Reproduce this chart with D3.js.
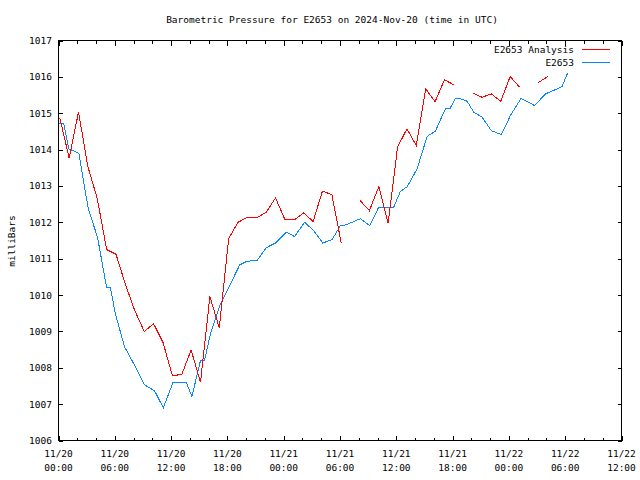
<!DOCTYPE html>
<html>
<head>
<meta charset="utf-8">
<script src="https://cdn.jsdelivr.net/npm/d3@7"></script>
<style>
  html, body { margin: 0; padding: 0; background: #fff; }
  svg { display: block; }
  text { font-family: "DejaVu Sans Mono", "Liberation Mono", monospace; font-size: 9.5px; fill: #000; }
</style>
</head>
<body>
<svg id="chart" width="640" height="480"></svg>
<script>
// ---- data ----
const title = "Barometric Pressure for E2653 on 2024-Nov-20 (time in UTC)";
const yLabel = "milliBars";
const seriesNames = ["E2653 Analysis", "E2653"];
const yTicks = [1006, 1007, 1008, 1009, 1010, 1011, 1012, 1013, 1014, 1015, 1016, 1017];
const xTickTimes = ["2024-11-20T00:00Z","2024-11-20T06:00Z","2024-11-20T12:00Z","2024-11-20T18:00Z",
  "2024-11-21T00:00Z","2024-11-21T06:00Z","2024-11-21T12:00Z","2024-11-21T18:00Z",
  "2024-11-22T00:00Z","2024-11-22T06:00Z","2024-11-22T12:00Z"];
const xTickLabels = [["11/20","00:00"],["11/20","06:00"],["11/20","12:00"],["11/20","18:00"],
  ["11/21","00:00"],["11/21","06:00"],["11/21","12:00"],["11/21","18:00"],
  ["11/22","00:00"],["11/22","06:00"],["11/22","12:00"]];

// Analysis (red), hourly; null = missing
const analysisTimes = [
  "2024-11-20T00:08Z","2024-11-20T01:08Z","2024-11-20T02:08Z","2024-11-20T03:08Z","2024-11-20T04:08Z",
  "2024-11-20T05:08Z","2024-11-20T06:08Z","2024-11-20T07:08Z","2024-11-20T08:08Z","2024-11-20T09:08Z",
  "2024-11-20T10:08Z","2024-11-20T11:08Z","2024-11-20T12:08Z","2024-11-20T13:08Z","2024-11-20T14:08Z",
  "2024-11-20T15:08Z","2024-11-20T16:08Z","2024-11-20T17:08Z","2024-11-20T18:08Z","2024-11-20T19:08Z",
  "2024-11-20T20:08Z","2024-11-20T21:08Z","2024-11-20T22:08Z","2024-11-20T23:08Z","2024-11-21T00:08Z",
  "2024-11-21T01:08Z","2024-11-21T02:08Z","2024-11-21T03:08Z","2024-11-21T04:08Z","2024-11-21T05:08Z",
  "2024-11-21T06:08Z","2024-11-21T07:08Z","2024-11-21T08:08Z","2024-11-21T09:08Z","2024-11-21T10:08Z",
  "2024-11-21T11:08Z","2024-11-21T12:08Z","2024-11-21T13:08Z","2024-11-21T14:08Z","2024-11-21T15:08Z",
  "2024-11-21T16:08Z","2024-11-21T17:08Z","2024-11-21T18:08Z","2024-11-21T19:08Z","2024-11-21T20:08Z",
  "2024-11-21T21:08Z","2024-11-21T22:08Z","2024-11-21T23:08Z","2024-11-22T00:08Z","2024-11-22T01:08Z",
  "2024-11-22T02:08Z","2024-11-22T03:08Z","2024-11-22T04:08Z"];
const analysisValues = [
  1014.88, 1013.77, 1015.03, 1013.53, 1012.65, 1011.25, 1011.12, 1010.29, 1009.57, 1009.00,
  1009.21, 1008.70, 1007.79, 1007.81, 1008.49, 1007.60, 1009.96, 1009.10, 1011.55, 1012.00,
  1012.14, 1012.12, 1012.28, 1012.67, 1012.07, 1012.07, 1012.26, 1012.02, 1012.86, 1012.76,
  1011.43, null,    1012.60, 1012.32, 1012.98, 1011.98, 1014.07, 1014.57, 1014.11, 1015.67,
  1015.32, 1015.92, 1015.78, null,    1015.56, 1015.44, 1015.53, 1015.33, 1016.01, 1015.72,
  null,    1015.84, 1016.01];

// Station observations (blue)
const obsTimes = [
  "2024-11-20T00:00Z","2024-11-20T00:34Z","2024-11-20T01:06Z","2024-11-20T02:10Z","2024-11-20T03:10Z",
  "2024-11-20T04:10Z","2024-11-20T05:07Z","2024-11-20T05:32Z","2024-11-20T06:04Z","2024-11-20T07:02Z",
  "2024-11-20T08:01Z","2024-11-20T09:10Z","2024-11-20T10:14Z","2024-11-20T11:10Z","2024-11-20T12:12Z",
  "2024-11-20T13:12Z","2024-11-20T13:38Z","2024-11-20T14:13Z","2024-11-20T15:08Z","2024-11-20T15:34Z",
  "2024-11-20T16:12Z","2024-11-20T17:16Z","2024-11-20T18:20Z","2024-11-20T19:19Z","2024-11-20T20:06Z",
  "2024-11-20T21:10Z","2024-11-20T22:08Z","2024-11-20T23:07Z","2024-11-21T00:16Z","2024-11-21T01:09Z",
  "2024-11-21T02:14Z","2024-11-21T03:12Z","2024-11-21T04:10Z","2024-11-21T05:10Z","2024-11-21T06:03Z",
  "2024-11-21T06:24Z","2024-11-21T07:00Z","2024-11-21T08:11Z","2024-11-21T09:10Z","2024-11-21T10:08Z",
  "2024-11-21T11:06Z","2024-11-21T11:44Z","2024-11-21T12:26Z","2024-11-21T13:10Z","2024-11-21T14:13Z",
  "2024-11-21T15:17Z","2024-11-21T16:10Z","2024-11-21T17:14Z","2024-11-21T17:42Z","2024-11-21T18:18Z",
  "2024-11-21T18:50Z","2024-11-21T19:33Z","2024-11-21T20:15Z","2024-11-21T21:09Z","2024-11-21T22:08Z",
  "2024-11-21T23:12Z","2024-11-22T00:10Z","2024-11-22T01:18Z","2024-11-22T02:45Z","2024-11-22T03:53Z",
  "2024-11-22T04:53Z","2024-11-22T05:40Z","2024-11-22T06:16Z"];
const obsValues = [
  1014.71, 1014.71, 1014.02, 1013.90, 1012.38, 1011.58, 1010.22, 1010.20, 1009.48, 1008.58,
  1008.11, 1007.53, 1007.37, 1006.90, 1007.59, 1007.59, 1007.59, 1007.21, 1008.20, 1008.20,
  1008.94, 1009.76, 1010.31, 1010.83, 1010.93, 1010.95, 1011.30, 1011.43, 1011.73, 1011.61,
  1012.00, 1011.77, 1011.43, 1011.53, 1011.91, 1011.91, 1011.97, 1012.10, 1011.91, 1012.42,
  1012.42, 1012.42, 1012.85, 1012.98, 1013.47, 1014.36, 1014.51, 1015.12, 1015.12, 1015.41,
  1015.40, 1015.33, 1015.03, 1014.89, 1014.52, 1014.41, 1014.94, 1015.41, 1015.21, 1015.53,
  1015.64, 1015.74, 1016.11];

const seriesColors = ["#ff0000", "#0a86ff"];

// ---- layout ----
const pL = 58.5, pR = 621.5, pT = 40.5, pB = 440.5;
const svg = d3.select("#chart");

const x = d3.scaleUtc()
  .domain([new Date("2024-11-20T00:00Z"), new Date("2024-11-22T12:00Z")])
  .range([pL, pR]);
const y = d3.scaleLinear().domain([1006, 1017]).range([pB, pT]);

const minorTicks = d3.utcHour.every(2).range(new Date("2024-11-20T00:00Z"), new Date("2024-11-22T12:01Z"));
const majorSet = new Set(xTickTimes.map(s => +new Date(s)));

// frame
svg.append("rect").attr("x", pL).attr("y", pT)
  .attr("width", pR - pL).attr("height", pB - pT)
  .attr("fill", "none").attr("stroke", "#000").attr("stroke-width", 1);

// x ticks (bottom & top, inward)
const gx = svg.append("g").attr("stroke", "#000").attr("stroke-width", 1).attr("shape-rendering", "crispEdges");
minorTicks.forEach(t => {
  const len = majorSet.has(+t) ? 5 : 3;
  const px = Math.round(x(t)) + 0.5;
  gx.append("line").attr("x1", px).attr("x2", px).attr("y1", pB).attr("y2", pB - len);
  gx.append("line").attr("x1", px).attr("x2", px).attr("y1", pT).attr("y2", pT + len);
});

// y ticks (left & right, inward)
yTicks.forEach(v => {
  const py = Math.round(y(v)) + 0.5;
  gx.append("line").attr("x1", pL).attr("x2", pL + 4).attr("y1", py).attr("y2", py);
  gx.append("line").attr("x1", pR).attr("x2", pR - 4).attr("y1", py).attr("y2", py);
});

// y tick labels
svg.append("g").selectAll("text").data(yTicks).join("text")
  .attr("x", 52).attr("y", d => y(d) + 3.5)
  .attr("text-anchor", "end")
  .text(d => d);

// x tick labels
const xl = svg.append("g").selectAll("g").data(xTickTimes).join("g");
xl.append("text").attr("x", (d) => x(new Date(d))).attr("y", 457)
  .attr("text-anchor", "middle").text((d, i) => xTickLabels[i][0]);
xl.append("text").attr("x", (d) => x(new Date(d))).attr("y", 471)
  .attr("text-anchor", "middle").text((d, i) => xTickLabels[i][1]);

// title
svg.append("text").attr("x", 332).attr("y", 23).attr("text-anchor", "middle").text(title);

// y label
svg.append("text").attr("transform", "translate(15,241) rotate(-90)")
  .attr("text-anchor", "middle").text(yLabel);

// lines
svg.append("clipPath").attr("id", "plotclip").append("rect")
  .attr("x", pL).attr("y", pT).attr("width", pR - pL).attr("height", pB - pT);

const analysis = analysisTimes.map((t, i) => ({ t: new Date(t), v: analysisValues[i] }));
const obs = obsTimes.map((t, i) => ({ t: new Date(t), v: obsValues[i] }));

const line = d3.line().defined(d => d.v !== null).x(d => x(d.t)).y(d => y(d.v));

svg.append("path").datum(obs).attr("d", line)
  .attr("fill", "none").attr("stroke", seriesColors[1]).attr("stroke-width", 1)
  .attr("shape-rendering", "crispEdges")
  .attr("clip-path", "url(#plotclip)");
svg.append("path").datum(analysis).attr("d", line)
  .attr("fill", "none").attr("stroke", seriesColors[0]).attr("stroke-width", 1)
  .attr("shape-rendering", "crispEdges")
  .attr("clip-path", "url(#plotclip)");

// legend
const legY = [49, 62];
seriesNames.forEach((name, i) => {
  svg.append("text").attr("x", 574).attr("y", legY[i] + 3.5).attr("text-anchor", "end").text(name);
  svg.append("line").attr("x1", 582).attr("x2", 610).attr("y1", legY[i] + 0.5).attr("y2", legY[i] + 0.5)
    .attr("stroke", seriesColors[i]).attr("stroke-width", 1).attr("shape-rendering", "crispEdges");
});
</script>
</body>
</html>
